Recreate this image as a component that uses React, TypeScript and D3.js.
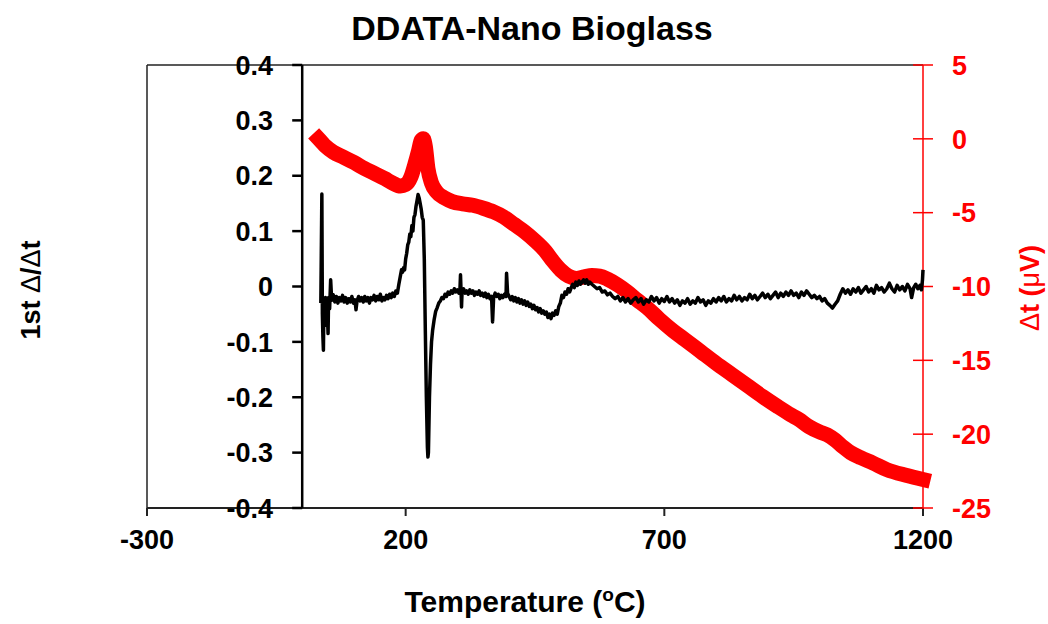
import React from "react";
import * as d3 from "d3";

const title = "DDATA-Nano Bioglass";
const xTicks = [-300, 200, 700, 1200];
const leftTicks = [-0.4, -0.3, -0.2, -0.1, 0, 0.1, 0.2, 0.3, 0.4];
const leftTickLabels = ["-0.4", "-0.3", "-0.2", "-0.1", "0", "0.1", "0.2", "0.3", "0.4"];
const rightTicks = [-25, -20, -15, -10, -5, 0, 5];

// 1st derivative (left axis): [temperature, value]
const derivData: [number, number][] = [
  [36, -0.03], [38, 0.167], [39, -0.05], [40, -0.09], [41, -0.115], [42, -0.03], [44, -0.06], [45, -0.02], [47, -0.07], [48, -0.03],
  [50, -0.085], [51, -0.02], [53, -0.04], [55, 0.012], [57, -0.025], [60, -0.015], [63, -0.028], [66, -0.018], [69, -0.03], [72, -0.02],
  [75, -0.026], [78, -0.016], [81, -0.028], [84, -0.02], [87, -0.03], [90, -0.022], [93, -0.028], [96, -0.018], [99, -0.03], [102, -0.024],
  [104, -0.042], [106, -0.026], [109, -0.018], [112, -0.026], [115, -0.02], [118, -0.028], [121, -0.018], [124, -0.026], [127, -0.02], [130, -0.03],
  [133, -0.02], [136, -0.024], [139, -0.016], [142, -0.026], [145, -0.018], [148, -0.024], [151, -0.014], [154, -0.026], [157, -0.02], [160, -0.024],
  [163, -0.016], [166, -0.022], [169, -0.014], [172, -0.02], [175, -0.012], [178, -0.018], [181, -0.008], [184, -0.012], [187, 0.005], [190, 0.02],
  [192, 0.03], [194, 0.026], [196, 0.034], [198, 0.03], [200, 0.05], [202, 0.06], [204, 0.075], [206, 0.08], [208, 0.095], [210, 0.09],
  [212, 0.11], [214, 0.1], [216, 0.125], [218, 0.13], [220, 0.145], [222, 0.155], [224, 0.166], [226, 0.16], [228, 0.15], [230, 0.14],
  [232, 0.125], [234, 0.12], [236, 0.05], [238, -0.08], [240, -0.2], [242, -0.29], [243, -0.308], [244, -0.3], [246, -0.2], [248, -0.14],
  [250, -0.1], [252, -0.08], [255, -0.06], [258, -0.045], [261, -0.038], [264, -0.03], [267, -0.026], [270, -0.02], [273, -0.022], [276, -0.014],
  [279, -0.018], [282, -0.01], [285, -0.014], [288, -0.008], [291, -0.012], [294, -0.004], [297, -0.01], [300, -0.006], [303, -0.012], [305, -0.004],
  [306, 0.021], [307, -0.008], [308, -0.037], [309, -0.01], [312, -0.004], [315, -0.012], [318, -0.008], [321, -0.014], [324, -0.006], [327, -0.012],
  [330, -0.008], [333, -0.016], [336, -0.01], [339, -0.014], [342, -0.008], [345, -0.016], [348, -0.012], [351, -0.018], [354, -0.012], [357, -0.02],
  [360, -0.014], [363, -0.022], [366, -0.018], [368, -0.064], [370, -0.02], [373, -0.012], [376, -0.018], [379, -0.014], [382, -0.022], [385, -0.016],
  [388, -0.02], [391, -0.014], [394, -0.018], [395, 0.024], [397, -0.012], [400, -0.018], [403, -0.024], [406, -0.018], [409, -0.026], [412, -0.02],
  [415, -0.028], [418, -0.022], [421, -0.03], [424, -0.024], [427, -0.032], [430, -0.026], [433, -0.034], [436, -0.028], [439, -0.036], [442, -0.032],
  [445, -0.04], [448, -0.034], [451, -0.042], [454, -0.038], [457, -0.046], [460, -0.04], [463, -0.048], [466, -0.044], [469, -0.05], [472, -0.046],
  [475, -0.056], [478, -0.05], [481, -0.058], [484, -0.048], [487, -0.052], [490, -0.044], [493, -0.05], [496, -0.036], [499, -0.03], [502, -0.016],
  [505, -0.02], [508, -0.01], [511, -0.014], [514, -0.004], [517, -0.01], [520, -0.002], [523, 0.004], [526, -0.002], [529, 0.008], [532, 0.002],
  [535, 0.01], [538, 0.004], [541, 0.008], [544, 0.012], [547, 0.006], [550, 0.012], [553, 0.004], [556, 0.008], [560, 0.004], [565, 0.0],
  [570, -0.004], [575, -0.002], [580, -0.01], [585, -0.008], [590, -0.015], [595, -0.012], [600, -0.018], [605, -0.022], [610, -0.018], [615, -0.026],
  [620, -0.02], [625, -0.028], [630, -0.022], [635, -0.03], [640, -0.024], [645, -0.02], [650, -0.028], [655, -0.022], [660, -0.032], [665, -0.024],
  [670, -0.028], [675, -0.018], [680, -0.026], [685, -0.02], [690, -0.03], [695, -0.022], [700, -0.027], [705, -0.018], [710, -0.028], [715, -0.022],
  [720, -0.03], [725, -0.024], [730, -0.034], [735, -0.026], [740, -0.03], [745, -0.022], [750, -0.032], [755, -0.026], [760, -0.03], [765, -0.02],
  [770, -0.028], [775, -0.024], [780, -0.034], [785, -0.026], [790, -0.03], [795, -0.022], [800, -0.028], [805, -0.02], [810, -0.026], [815, -0.018],
  [820, -0.028], [825, -0.022], [830, -0.026], [835, -0.016], [840, -0.024], [845, -0.018], [850, -0.026], [855, -0.02], [860, -0.024], [865, -0.014],
  [870, -0.022], [875, -0.016], [880, -0.024], [885, -0.018], [890, -0.012], [895, -0.02], [900, -0.014], [905, -0.022], [910, -0.016], [915, -0.01],
  [920, -0.02], [925, -0.012], [930, -0.018], [935, -0.01], [940, -0.016], [945, -0.008], [950, -0.016], [955, -0.012], [960, -0.02], [965, -0.01],
  [970, -0.016], [975, -0.008], [980, -0.014], [985, -0.02], [990, -0.016], [995, -0.022], [1000, -0.018], [1005, -0.026], [1010, -0.022], [1015, -0.03],
  [1020, -0.034], [1025, -0.039], [1030, -0.032], [1035, -0.026], [1040, -0.014], [1045, -0.004], [1050, -0.012], [1055, -0.006], [1060, -0.014], [1065, -0.004],
  [1070, -0.01], [1075, -0.002], [1080, -0.012], [1085, -0.006], [1090, 0.0], [1095, -0.01], [1100, -0.004], [1105, -0.012], [1110, 0.002], [1115, -0.006],
  [1120, -0.002], [1125, -0.01], [1130, -0.004], [1135, 0.006], [1140, -0.004], [1145, -0.01], [1150, 0.002], [1155, -0.006], [1160, 0.0], [1165, -0.008],
  [1170, 0.004], [1175, -0.004], [1178, -0.02], [1182, -0.002], [1186, 0.004], [1190, -0.004], [1194, 0.002], [1197, -0.006], [1199, 0.012], [1200, 0.03],
];

// Δt signal (right axis): [temperature, µV]
const dtData: [number, number][] = [
  [32, 0], [36, -0.15], [45, -0.5], [60, -0.9], [80, -1.25], [100, -1.6], [120, -2.0], [140, -2.35], [160, -2.7], [175, -3.0],
  [190, -3.2], [200, -3.1], [210, -2.6], [218, -1.7], [225, -0.8], [230, -0.1], [234, 0], [238, -0.5], [243, -2.0], [250, -3.0],
  [260, -3.6], [275, -4.0], [290, -4.25], [310, -4.4], [330, -4.5], [350, -4.7], [370, -4.95], [390, -5.3], [410, -5.8], [430, -6.3],
  [450, -6.9], [470, -7.6], [485, -8.3], [500, -8.9], [515, -9.3], [530, -9.45], [545, -9.35], [560, -9.25], [575, -9.3], [590, -9.5],
  [610, -9.9], [628, -10.35], [647, -10.9], [667, -11.45], [690, -12.2], [717, -13.0], [740, -13.6], [770, -14.4], [800, -15.2], [830, -15.95],
  [860, -16.7], [890, -17.45], [920, -18.15], [945, -18.7], [960, -19.0], [980, -19.5], [1000, -19.85], [1015, -20.05], [1030, -20.4], [1045, -20.85],
  [1060, -21.25], [1080, -21.6], [1103, -21.95], [1130, -22.4], [1169, -22.8], [1200, -23.07],
];

const W = 1048;
const H = 624;
const FONT = "'Liberation Sans', Arial, sans-serif";

export default function App() {
  const x = d3.scaleLinear().domain([-300, 1200]).range([147, 923]);
  const yL = d3.scaleLinear().domain([-0.4, 0.4]).range([508, 65]);
  const yR = d3.scaleLinear().domain([-25, 5]).range([508, 65]);

  const lineL = d3.line<[number, number]>().x((d) => x(d[0])).y((d) => yL(d[1]));
  const lineR = d3
    .line<[number, number]>()
    .x((d) => x(d[0]))
    .y((d) => yR(d[1]))
    .curve(d3.curveMonotoneX);

  const x0 = x(0);
  const [xl, xr] = x.range();
  const [yb, yt] = yL.range();

  return (
    <div style={{ position: "absolute", left: 0, top: 0 }}>
      <svg width={W} height={H} style={{ display: "block", background: "#fff" }} fontFamily={FONT}>
        {/* frame */}
        <line x1={xl} x2={xr} y1={yt} y2={yt} stroke="#222" strokeWidth={1.5} />
        <line x1={xl} x2={xl} y1={yt} y2={yb} stroke="#222" strokeWidth={1.5} />
        {/* bottom axis */}
        <line x1={xl} x2={xr} y1={yb} y2={yb} stroke="#222" strokeWidth={2} />
        {xTicks.map((t) => (
          <g key={t}>
            <line x1={x(t)} x2={x(t)} y1={yb} y2={yb + 8} stroke="#222" strokeWidth={2} />
            <text x={x(t)} y={549} textAnchor="middle" fontSize={27} fontWeight="bold" fill="#000">
              {t}
            </text>
          </g>
        ))}
        {/* left axis at x=0 */}
        <line x1={x0} x2={x0} y1={yt} y2={yb} stroke="#000" strokeWidth={2.5} />
        {leftTicks.map((t, i) => (
          <g key={t}>
            <line x1={x0 - 10} x2={x0} y1={yL(t)} y2={yL(t)} stroke="#000" strokeWidth={2.5} />
            <text x={273} y={yL(t)} dy="0.36em" textAnchor="end" fontSize={27} fontWeight="bold" fill="#000">
              {leftTickLabels[i]}
            </text>
          </g>
        ))}
        {/* right axis */}
        <line x1={xr} x2={xr} y1={yt} y2={yb} stroke="#ff0000" strokeWidth={1.5} />
        {rightTicks.map((t) => (
          <g key={t}>
            <line x1={xr - 10} x2={xr + 10} y1={yR(t)} y2={yR(t)} stroke="#ff0000" strokeWidth={1.5} />
            <text x={952} y={yR(t)} dy="0.36em" textAnchor="start" fontSize={27} fontWeight="bold" fill="#ff0000">
              {String(t)}
            </text>
          </g>
        ))}
        {/* series */}
        <path d={lineR(dtData) || ""} fill="none" stroke="#ff0000" strokeWidth={15} strokeLinecap="square" strokeLinejoin="round" />
        <path d={lineL(derivData) || ""} fill="none" stroke="#000" strokeWidth={3.5} strokeLinejoin="round" />
        {/* titles */}
        <text x={532} y={40} textAnchor="middle" fontSize={34} fontWeight="bold" fill="#000">
          {title}
        </text>
        <text x={525} y={612} textAnchor="middle" fontSize={30} fontWeight="bold" fill="#000">
          Temperature (<tspan dy={-11} fontSize={19}>o</tspan>
          <tspan dy={11}>C)</tspan>
        </text>
        <text transform="translate(40,290) rotate(-90)" textAnchor="middle" fontSize={27} fontWeight="bold" fill="#000">
          1st <tspan fontWeight="normal">Δ</tspan>/<tspan fontWeight="normal">Δ</tspan>t
        </text>
        <text transform="translate(1039,288) rotate(-90)" textAnchor="middle" fontSize={27} fontWeight="bold" fill="#ff0000">
          <tspan fontWeight="normal">Δ</tspan>t (<tspan fontWeight="normal">μ</tspan>V)
        </text>
      </svg>
    </div>
  );
}
